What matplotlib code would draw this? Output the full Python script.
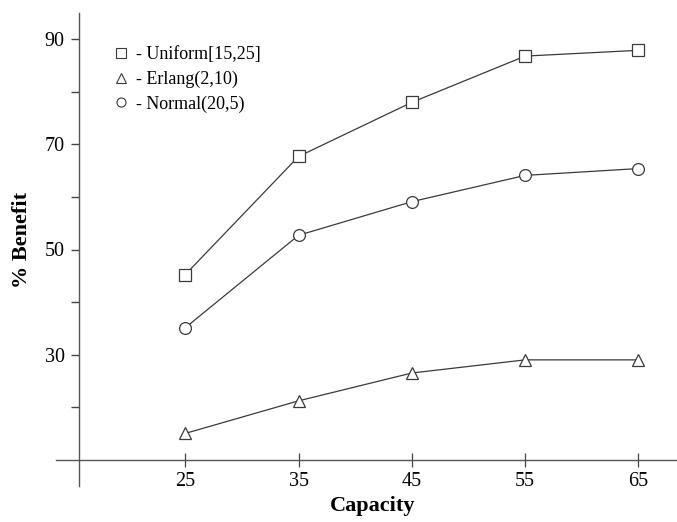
import matplotlib
matplotlib.use('Agg')
import matplotlib.pyplot as plt
from matplotlib.lines import Line2D

plt.rcParams['font.family'] = ['Liberation Serif', 'DejaVu Serif']

capacity = [25, 35, 45, 55, 65]
uniform = [45.2, 67.7, 78.0, 86.8, 87.9]
erlang = [15.0, 21.2, 26.5, 29.0, 29.0]
normal = [35.1, 52.7, 59.1, 64.1, 65.4]
labels = ['- Uniform[15,25]', '- Erlang(2,10)', '- Normal(20,5)']
markers = ['s', '^', 'o']

fig = plt.figure(figsize=(6.77, 5.22), dpi=100)
ax = fig.add_axes([56 / 677, 36 / 522, 621 / 677, 473 / 522])

lc = '#3a3a3a'
for ys, m, ms in zip([uniform, erlang, normal], markers, [8.5, 9, 8.5]):
    ax.plot(capacity, ys, color=lc, lw=0.9, marker=m, ms=ms,
            mfc='white', mec=lc, mew=0.9)

ax.set_xlim(13.6, 68.4)
ax.set_ylim(5, 95)

for s in ['top', 'right']:
    ax.spines[s].set_visible(False)
ax.spines['left'].set_position(('data', 15.6))
ax.spines['bottom'].set_position(('data', 10))
for s in ['left', 'bottom']:
    ax.spines[s].set_color('#555555')
    ax.spines[s].set_linewidth(1.0)

ax.set_xticks(capacity)
ax.set_yticks([30, 50, 70, 90])
ax.set_yticks([20, 40, 60, 80], minor=True)
ax.tick_params(axis='x', direction='inout', length=10, width=0.9,
               color='#444444', labelsize=14.5, pad=4)
ax.tick_params(axis='y', which='both', direction='out', length=6, width=1.0,
               color='#444444', labelsize=14.5, pad=4)

ax.set_xlabel('Capacity', fontsize=16, fontweight='bold')
ax.xaxis.set_label_coords(0.51, -0.022)
ax.set_ylabel('% Benefit', fontsize=16, fontweight='bold')
ax.yaxis.set_label_coords(-0.038, 0.52)

handles = [Line2D([], [], ls='none', marker=m, ms=6.5, mfc='white',
                  mec=lc, mew=0.8) for m in markers]
ax.legend(handles, labels, loc='upper left',
          bbox_to_anchor=(112 / 677, 1 - 46 / 522),
          bbox_transform=fig.transFigure, frameon=False, fontsize=13,
          handlelength=1.0, handletextpad=0.35, labelspacing=0.42,
          borderpad=0, borderaxespad=0)

fig.savefig('out.png', dpi=100)
